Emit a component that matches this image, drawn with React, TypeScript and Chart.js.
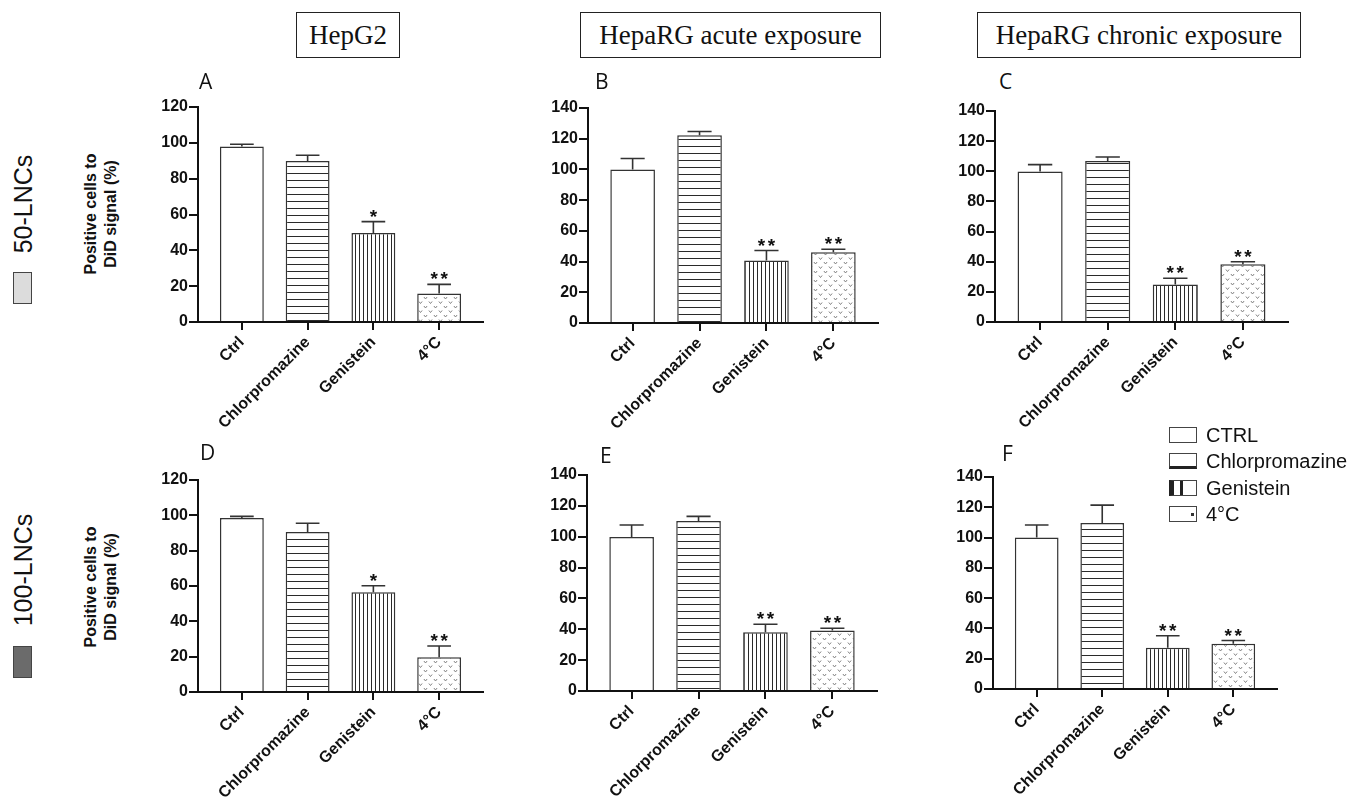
import React, { useEffect, useRef } from "react";
import { Chart, registerables } from "chart.js";

Chart.register(...registerables);

// ---------------- DATA ----------------
const categories = ["Ctrl", "Chlorpromazine", "Genistein", "4°C"];
const legendLabels = ["CTRL", "Chlorpromazine", "Genistein", "4°C"];
const columnTitles = ["HepG2", "HepaRG acute exposure", "HepaRG chronic exposure"];
const rowLabels = ["50-LNCs", "100-LNCs"];
const yAxisTitle = ["Positive cells to", "DiD signal (%)"];
const panelLetters = ["A", "B", "C", "D", "E", "F"];
const yMaxHepG2 = 120;
const yMaxHepaRG = 140;
const yStep = 20;

const meanA = [98, 89.8, 49.7, 15.9];
const semA = [1.2, 3.3, 6.3, 5.1];
const sigA = ["", "", "*", "**"];

const meanB = [100, 122.3, 40.7, 46.1];
const semB = [7.1, 2.4, 6.5, 1.9];
const sigB = ["", "", "**", "**"];

const meanC = [99.8, 106.9, 24.8, 38.3];
const semC = [4.6, 2.6, 4.2, 1.7];
const sigC = ["", "", "**", "**"];

const meanD = [98.5, 90.5, 56.5, 19.6];
const semD = [0.9, 5.0, 3.6, 6.4];
const sigD = ["", "", "*", "**"];

const meanE = [99.8, 110.2, 38.1, 39.2];
const semE = [7.8, 3.0, 5.2, 1.5];
const sigE = ["", "", "**", "**"];

const meanF = [100, 109.6, 27.2, 29.8];
const semF = [8.3, 11.8, 8.0, 2.2];
const sigF = ["", "", "**", "**"];

// ---------------- LAYOUT ----------------
const Y_AXIS_W = 60;
const X_AXIS_H = 130;
const PAD_T = 14;
const PAD_R = 12;
const SIDE_GAP = 0.667; // gap between axis and first / last bar centre, in category units

type PanelSpec = {
  letter: string;
  yMax: number;
  mean: number[];
  sem: number[];
  sig: string[];
  axisX: number;
  topY: number;
  zeroY: number;
  plotW: number;
};

const panels: PanelSpec[] = [
  { letter: panelLetters[0], yMax: yMaxHepG2, mean: meanA, sem: semA, sig: sigA, axisX: 198, topY: 107, zeroY: 322, plotW: 285 },
  { letter: panelLetters[1], yMax: yMaxHepaRG, mean: meanB, sem: semB, sig: sigB, axisX: 588, topY: 108, zeroY: 323, plotW: 290 },
  { letter: panelLetters[2], yMax: yMaxHepaRG, mean: meanC, sem: semC, sig: sigC, axisX: 995, topY: 111, zeroY: 322, plotW: 293 },
  { letter: panelLetters[3], yMax: yMaxHepG2, mean: meanD, sem: semD, sig: sigD, axisX: 198, topY: 480, zeroY: 692, plotW: 285 },
  { letter: panelLetters[4], yMax: yMaxHepaRG, mean: meanE, sem: semE, sig: sigE, axisX: 587, topY: 475, zeroY: 691, plotW: 290 },
  { letter: panelLetters[5], yMax: yMaxHepaRG, mean: meanF, sem: semF, sig: sigF, axisX: 993, topY: 477, zeroY: 689, plotW: 284 },
];

const letterPos = [
  [199, 75], [595, 75], [999, 75],
  [200, 446], [600, 449], [1002, 447],
];

const AXIS_COLOR = "#111";
const BAR_BORDER = "#333";
const TICK_FONT = { family: "'Liberation Sans', Arial, sans-serif", size: 16, weight: "bold" as const };

// ---------------- PATTERNS ----------------
function makePattern(kind: "h" | "v" | "d"): CanvasPattern | string {
  const c = document.createElement("canvas");
  const g = c.getContext("2d");
  if (!g) return "#fff";
  if (kind === "h") {
    c.width = 8; c.height = 7;
    g.fillStyle = "#fff"; g.fillRect(0, 0, 8, 7);
    g.fillStyle = "#2a2a2a"; g.fillRect(0, 3, 8, 1);
  } else if (kind === "v") {
    c.width = 4; c.height = 8;
    g.fillStyle = "#fff"; g.fillRect(0, 0, 4, 8);
    g.fillStyle = "#2a2a2a"; g.fillRect(1, 0, 1, 8);
  } else {
    c.width = 10; c.height = 9;
    g.fillStyle = "#fff"; g.fillRect(0, 0, 10, 9);
    g.strokeStyle = "#777"; g.lineWidth = 0.9;
    const vmark = (x: number, y: number) => {
      g.beginPath();
      g.moveTo(x - 1.6, y - 1); g.lineTo(x, y + 1); g.lineTo(x + 1.6, y - 1);
      g.stroke();
    };
    vmark(2.5, 2.5); vmark(7.5, 7);
  }
  return g.createPattern(c, "repeat") || "#fff";
}

// ---------------- PLUGIN: error bars + significance ----------------
const errorBarPlugin = {
  id: "errorBars",
  afterDatasetsDraw(chart: any) {
    const { ctx } = chart;
    const yScale = chart.scales.y;
    const ds = chart.data.datasets[0];
    const meta = chart.getDatasetMeta(0);
    ctx.save();
    meta.data.forEach((bar: any, i: number) => {
      const v = ds.data[i].y;
      const e = ds.sem[i];
      const xc = bar.x;
      const yTop = yScale.getPixelForValue(v);
      const yErr = yScale.getPixelForValue(v + e);
      const half = bar.width * 0.27;
      ctx.strokeStyle = "#333";
      ctx.lineWidth = 1.6;
      ctx.beginPath();
      ctx.moveTo(xc, yTop);
      ctx.lineTo(xc, yErr);
      ctx.moveTo(xc - half, yErr);
      ctx.lineTo(xc + half, yErr);
      ctx.stroke();
      const s: string = ds.sig[i];
      if (s) {
        ctx.fillStyle = "#111";
        ctx.font = "bold 19px 'Liberation Sans', Arial, sans-serif";
        ctx.textAlign = "center";
        ctx.textBaseline = "alphabetic";
        const n = s.length;
        for (let k = 0; k < n; k++) {
          const dx = (k - (n - 1) / 2) * 10;
          ctx.fillText("*", xc + dx, yErr + 1);
        }
      }
    });
    ctx.restore();
  },
};

// ---------------- PANEL ----------------
function Panel({ p }: { p: PanelSpec }) {
  const ref = useRef<HTMLCanvasElement>(null);
  const w = Y_AXIS_W + p.plotW + PAD_R;
  const h = PAD_T + (p.zeroY - p.topY) + X_AXIS_H;

  useEffect(() => {
    if (!ref.current) return;
    const fills = ["#ffffff", makePattern("h"), makePattern("v"), makePattern("d")];
    const chart = new Chart(ref.current, {
      type: "bar",
      data: {
        datasets: [
          {
            data: categories.map((_, i) => ({ x: i, y: p.mean[i] })),
            backgroundColor: fills as any,
            borderColor: BAR_BORDER,
            borderWidth: 1.5,
            categoryPercentage: 1,
            barPercentage: 0.667,
            sem: p.sem,
            sig: p.sig,
          } as any,
        ],
      },
      options: {
        animation: false,
        responsive: false,
        devicePixelRatio: window.devicePixelRatio || 1,
        layout: { padding: { left: 0, top: PAD_T, right: PAD_R, bottom: 0 } },
        plugins: { legend: { display: false }, tooltip: { enabled: false } },
        scales: {
          x: {
            type: "linear",
            min: -SIDE_GAP,
            max: categories.length - 1 + SIDE_GAP,
            offset: false,
            afterFit: (s: any) => { s.height = X_AXIS_H; },
            grid: {
              display: true,
              offset: false,
              drawOnChartArea: false,
              drawTicks: true,
              tickLength: 8,
              tickWidth: 2,
              tickColor: AXIS_COLOR,
              color: AXIS_COLOR,
              lineWidth: 2,
            },
            border: { display: true, color: AXIS_COLOR, width: 2 },
            ticks: {
              stepSize: 1,
              includeBounds: false,
              autoSkip: false,
              maxRotation: 45,
              minRotation: 45,
              padding: 3,
              color: "#111",
              font: TICK_FONT,
              callback: (v: any) => categories[Number(v)] ?? "",
            },
          } as any,
          y: {
            type: "linear",
            min: 0,
            max: p.yMax,
            afterFit: (s: any) => { s.width = Y_AXIS_W; },
            grid: {
              display: true,
              drawOnChartArea: false,
              drawTicks: true,
              tickLength: 9,
              tickWidth: 2,
              tickColor: AXIS_COLOR,
              color: AXIS_COLOR,
              lineWidth: 2,
            },
            border: { display: true, color: AXIS_COLOR, width: 2 },
            ticks: {
              stepSize: yStep,
              padding: 1,
              color: "#111",
              font: TICK_FONT,
            },
          } as any,
        },
      },
      plugins: [errorBarPlugin as any],
    });
    return () => chart.destroy();
  }, []);

  return (
    <canvas
      ref={ref}
      width={w}
      height={h}
      style={{ position: "absolute", left: p.axisX - Y_AXIS_W, top: p.topY - PAD_T, width: w, height: h }}
    />
  );
}

// ---------------- STATIC TEXT / LEGEND ----------------
const titleBoxes = [
  { left: 296, top: 12, width: 104, height: 46 },
  { left: 580, top: 12, width: 301, height: 46 },
  { left: 977, top: 12, width: 324, height: 46 },
];

function LegendIcon({ kind }: { kind: number }) {
  const base: React.CSSProperties = {
    position: "absolute", left: 0, top: 0, width: 28, height: 16,
    boxSizing: "border-box", border: "1.5px solid #444", background: "#fff",
  };
  if (kind === 0) return <div style={base} />;
  if (kind === 1) return <div style={{ ...base, borderBottom: "3px solid #222" }} />;
  if (kind === 2)
    return (
      <div style={{ ...base, borderLeft: "5px solid #222" }}>
        <div style={{ position: "absolute", left: 6, top: 0, width: 3, height: "100%", background: "#222" }} />
      </div>
    );
  return (
    <div style={base}>
      <div style={{ position: "absolute", right: 2, top: 6, width: 3, height: 3, background: "#333" }} />
    </div>
  );
}

export default function App() {
  const legendRows = [435, 461, 488, 514];
  return (
    <div
      style={{
        position: "absolute", left: 0, top: 0, width: 1354, height: 797,
        background: "#fff", overflow: "hidden", color: "#111",
      }}
    >
      {columnTitles.map((t, i) => (
        <div
          key={t}
          style={{
            position: "absolute", ...titleBoxes[i], boxSizing: "border-box",
            border: "1.5px solid #222", display: "flex", alignItems: "center", justifyContent: "center",
            fontFamily: "'Liberation Serif', 'Times New Roman', serif", fontSize: 27, whiteSpace: "nowrap",
          }}
        >
          {t}
        </div>
      ))}

      {panels.map((p) => (
        <Panel key={p.letter} p={p} />
      ))}

      {panels.map((p, i) => (
        <div
          key={"l" + p.letter}
          style={{
            position: "absolute", left: letterPos[i][0], top: letterPos[i][1] - 4,
            fontFamily: "'Open Sans', sans-serif", fontSize: 21, lineHeight: "21px",
          }}
        >
          {p.letter}
        </div>
      ))}

      {rowLabels.map((r, i) => (
        <React.Fragment key={r}>
          <div
            style={{
              position: "absolute", left: 23, top: i === 0 ? 204 : 570,
              transform: "translate(-50%, -50%) rotate(-90deg)",
              fontFamily: "'Liberation Sans', Arial, sans-serif", fontSize: 25, whiteSpace: "nowrap",
            }}
          >
            {r}
          </div>
          <div
            style={{
              position: "absolute", left: 13, top: i === 0 ? 272 : 646, width: 19, height: 32,
              boxSizing: "border-box", border: "1.5px solid #444",
              background: i === 0 ? "#dcdcdc" : "#6b6b6b",
            }}
          />
          <div
            style={{
              position: "absolute", left: 101, top: i === 0 ? 214 : 587,
              transform: "translate(-50%, -50%) rotate(-90deg)",
              fontFamily: "'Liberation Sans', Arial, sans-serif", fontWeight: "bold", fontSize: 16,
              lineHeight: "20px", textAlign: "center", whiteSpace: "nowrap",
            }}
          >
            {yAxisTitle[0]}
            <br />
            {yAxisTitle[1]}
          </div>
        </React.Fragment>
      ))}

      {legendLabels.map((l, i) => (
        <div key={l} style={{ position: "absolute", left: 1169, top: legendRows[i] - 8, width: 200, height: 16 }}>
          <LegendIcon kind={i} />
          <div
            style={{
              position: "absolute", left: 37, top: -4, lineHeight: "24px",
              fontFamily: "'Liberation Sans', Arial, sans-serif", fontSize: 20, whiteSpace: "nowrap",
            }}
          >
            {l}
          </div>
        </div>
      ))}
    </div>
  );
}
